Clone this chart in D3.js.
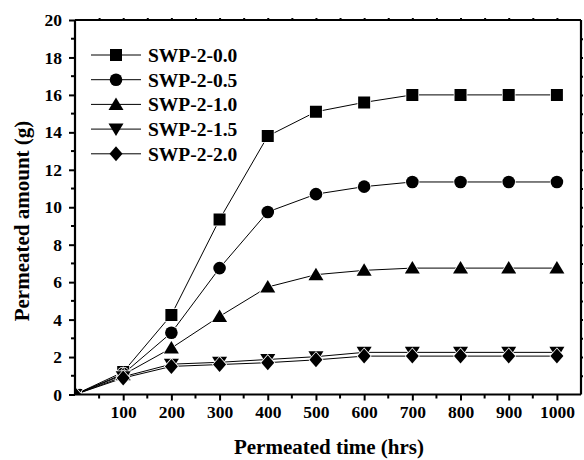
<!DOCTYPE html>
<html><head><meta charset="utf-8">
<script src="https://cdn.jsdelivr.net/npm/d3@7"></script>
<style>body{margin:0;background:#fff}svg{display:block}text{font-family:"Liberation Serif","Times New Roman",serif;font-weight:bold;fill:#000}</style>
</head><body><svg id="c" width="584" height="460"></svg>
<script>
const times = [0,100,200,300,400,500,600,700,800,900,1000];
const seriesNames = ["SWP-2-0.0","SWP-2-0.5","SWP-2-1.0","SWP-2-1.5","SWP-2-2.0"];
const s00 = [0,1.2,4.25,9.35,13.8,15.1,15.6,16.0,16.0,16.0,16.0];
const s05 = [0,1.1,3.3,6.75,9.75,10.7,11.1,11.35,11.35,11.35,11.35];
const s10 = [0,1.05,2.48,4.17,5.74,6.4,6.63,6.75,6.75,6.75,6.75];
const s15 = [0,0.95,1.62,1.72,1.87,2.02,2.25,2.25,2.25,2.25,2.25];
const s20 = [0,0.88,1.5,1.6,1.7,1.85,2.05,2.05,2.05,2.05,2.05];
const seriesValues = [s00,s05,s10,s15,s20];
const markerTypes = ["square","circle","triangle","triangleDown","diamond"];
const xTickLabels = [100,200,300,400,500,600,700,800,900,1000];
const yTickLabels = [0,2,4,6,8,10,12,14,16,18,20];

const svg = d3.select("#c");
const L=75,R=581,T=20,B=394.5;
const x = d3.scaleLinear().domain([0,1050]).range([L,R]);
const y = d3.scaleLinear().domain([0,20]).range([B,T]);

svg.append("defs").append("clipPath").attr("id","clip").append("rect")
  .attr("x",L).attr("y",T).attr("width",R-L).attr("height",B-T);

function markerPath(type){
  const s=6;
  switch(type){
    case "square": return `M${-s},${-s}H${s}V${s}H${-s}Z`;
    case "circle": return d3.symbol(d3.symbolCircle, Math.PI*6.3*6.3)();
    case "triangle": return `M0,${-7}L${7.5},${5.5}L${-7.5},${5.5}Z`;
    case "triangleDown": return `M0,${7}L${7.5},${-5.5}L${-7.5},${-5.5}Z`;
    case "diamond": return `M0,${-7.5}L${6.5},0L0,${7.5}L${-6.5},0Z`;
  }
}

const plot = svg.append("g").attr("clip-path","url(#clip)");
const line = d3.line().x((d,i)=>x(times[i])).y(d=>y(d));
seriesValues.forEach(vals=>{
  plot.append("path").attr("d",line(vals)).attr("fill","none").attr("stroke","#000").attr("stroke-width",1);
});
seriesValues.forEach((vals,k)=>{
  plot.selectAll(null).data(vals).enter().append("path")
    .attr("d",markerPath(markerTypes[k]))
    .attr("transform",(d,i)=>`translate(${x(times[i])},${y(d)})`)
    .attr("fill","#000").attr("stroke","#fff").attr("stroke-width",1.5).attr("paint-order","stroke");
});

// axes
const xMinor = d3.range(50,1050,100);
const xAxis = d3.axisBottom(x).tickValues(xTickLabels).tickSize(6).tickPadding(5).tickFormat(d3.format("d"));
const gx = svg.append("g").attr("transform",`translate(0,${B})`).call(xAxis);
gx.selectAll(".tick text").style("font-size","17.5px");
gx.append("g").selectAll("line").data(xMinor).enter().append("line")
  .attr("x1",d=>x(d)).attr("x2",d=>x(d)).attr("y1",0).attr("y2",4);
const yMinor = d3.range(1,20,2);
const yAxis = d3.axisLeft(y).tickValues(yTickLabels).tickSize(6).tickPadding(7);
const gy = svg.append("g").attr("transform",`translate(${L},0)`).call(yAxis);
gy.selectAll(".tick text").style("font-size","17.5px");
gy.append("g").selectAll("line").data(yMinor).enter().append("line")
  .attr("x1",0).attr("x2",-4).attr("y1",d=>y(d)).attr("y2",d=>y(d));
// top & right
const gt = svg.append("g").attr("transform",`translate(0,${T})`)
  .call(d3.axisTop(x).tickValues(d3.range(50,1050,50)).tickSize(2).tickFormat(""));
const gr = svg.append("g").attr("transform",`translate(${R},0)`)
  .call(d3.axisRight(y).tickValues(d3.range(1,20,1)).tickSize(2).tickFormat(""));
[gx,gy,gt,gr].forEach(g=>{
  g.selectAll("line").attr("stroke","#000").attr("stroke-width",2);
  g.select(".domain").attr("stroke","#000").attr("stroke-width",2.2);
  g.selectAll(".tick text").attr("fill","#000").style("font-family","'Liberation Serif',serif").style("font-weight","bold");
});
gx.select(".domain").attr("d",`M${L},0H${R}`);
gy.select(".domain").attr("d",`M0,${B}V${T}`);
gt.select(".domain").attr("d",`M${L},0H${R}`);
gr.select(".domain").attr("d",`M0,${B}V${T}`);

// titles
svg.append("text").attr("x",329).attr("y",454).attr("text-anchor","middle").style("font-size","21px").text("Permeated time (hrs)");
svg.append("text").attr("transform",`translate(29,221) rotate(-90)`).attr("text-anchor","middle").style("font-size","21px").text("Permeated amount (g)");

// legend
const lg = svg.append("g");
seriesNames.forEach((n,k)=>{
  const yy = 55 + k*24.7;
  lg.append("line").attr("x1",91).attr("x2",141).attr("y1",yy).attr("y2",yy).attr("stroke","#000").attr("stroke-width",1);
  lg.append("path").attr("d",markerPath(markerTypes[k])).attr("transform",`translate(116,${yy})`).attr("fill","#000");
  lg.append("text").attr("x",148).attr("y",yy).attr("dy","0.35em").style("font-size","19.5px").text(n);
});
</script></body></html>
